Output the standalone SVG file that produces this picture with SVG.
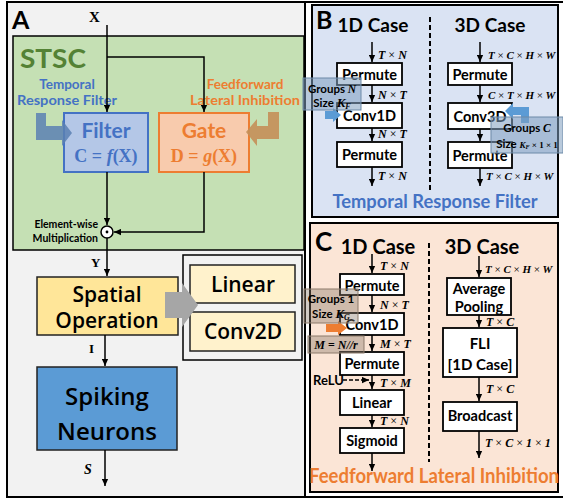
<svg xmlns="http://www.w3.org/2000/svg" width="563" height="504" viewBox="0 0 563 504">
<style>
.s{font-family:Lato,"Noto Sans",sans-serif;font-weight:bold}
.n{font-family:"Open Sans","Noto Sans",sans-serif;font-weight:600}
.m{font-family:"Liberation Serif",serif;font-style:italic;font-weight:bold;font-size:12px}
.ml{font-size:11px}
.mu{font-style:normal;font-weight:normal}
.box{fill:#fff;stroke:#000;stroke-width:1.8}
.ln{fill:none;stroke:#000;stroke-width:1.5}
.ov{stroke-width:1}
.c{text-anchor:middle}
</style>
<defs>
<marker id="ah" viewBox="0 0 10 10" refX="10" refY="5" markerWidth="7" markerHeight="7" markerUnits="userSpaceOnUse" orient="auto"><path d="M0,0.5 L10,5 L0,9.5 Z" fill="#000"/></marker>
</defs>

<!-- Panel A -->
<g id="panelA">
<rect x="7" y="2" width="298" height="495" fill="#f2f2f2" stroke="#000" stroke-width="2"/>
<line x1="305" y1="2" x2="563" y2="2" stroke="#000" stroke-width="2"/>
<line x1="305" y1="497" x2="563" y2="497" stroke="#000" stroke-width="2"/>
<text x="12" y="29" class="s" font-size="25" font-family="Liberation Sans">A</text>
<text x="89" y="22" font-family="Liberation Serif" font-weight="bold" font-size="15">X</text>
</g>
<g id="stsc">
<rect x="13" y="36" width="291" height="214" fill="#c5e0b4" stroke="#000" stroke-width="1.5"/>
<text x="20" y="68" class="s" font-size="26" fill="#548235" textLength="66" lengthAdjust="spacingAndGlyphs">STSC</text>
<text x="67" y="89" class="s c" font-size="13.5" fill="#4472c4">Temporal</text>
<text x="67" y="105" class="s c" font-size="13.5" fill="#4472c4" textLength="100" lengthAdjust="spacingAndGlyphs">Response Filter</text>
<text x="245" y="89" class="s c" font-size="13.5" fill="#ed7d31">Feedforward</text>
<text x="245" y="105" class="s c" font-size="13.5" fill="#ed7d31" textLength="110" lengthAdjust="spacingAndGlyphs">Lateral Inhibition</text>
</g>
<g id="filter">
<rect x="64" y="113" width="84" height="59" fill="#b4c7e7" stroke="#4472c4" stroke-width="2"/>
<text x="106" y="138" class="s c" font-size="21" fill="#4472c4">Filter</text>
<text x="106" y="162" class="c" font-family="Liberation Serif" font-weight="bold" font-size="18" fill="#4472c4">C = <tspan font-style="italic">f</tspan>(X)</text>
</g>
<g id="gate">
<rect x="159" y="113" width="90" height="59" fill="#f8cbad" stroke="#ed7d31" stroke-width="2"/>
<text x="204" y="138" class="s c" font-size="21" fill="#ed7d31">Gate</text>
<text x="204" y="162" class="c" font-family="Liberation Serif" font-weight="bold" font-size="18" fill="#ed7d31">D = <tspan font-style="italic">g</tspan>(X)</text>
</g>
<g id="wideArrows">
<path d="M36,113 H46 V126 H62 V120 L72,133 L62,146 V140 H36 Z" fill="#5b80b3" fill-opacity="0.85"/>
<path d="M279,112 H268 V126 H257 V119 L246,132 L257,146 V139 H279 Z" fill="#c48f58" fill-opacity="0.9"/>
</g>
<g id="mult">
<circle cx="107" cy="232" r="6" fill="#fff" stroke="#000" stroke-width="1.5"/>
<circle cx="107" cy="232" r="1.4" fill="#000"/>
<text x="98" y="228" class="s" font-size="10.5" text-anchor="end">Element-wise</text>
<text x="98" y="242" class="s" font-size="10.5" text-anchor="end">Multiplication</text>
</g>
<g id="ops">
<rect x="183" y="255" width="119" height="105" fill="#f2f2f2" stroke="#000" stroke-width="1.5"/>
<rect x="190" y="265" width="105" height="38" fill="#fff2cc" stroke="#222" stroke-width="1.5"/>
<text x="243" y="292" class="n c" font-size="21">Linear</text>
<rect x="190" y="312" width="105" height="39" fill="#fff2cc" stroke="#222" stroke-width="1.5"/>
<text x="243" y="339" class="n c" font-size="21">Conv2D</text>
</g>
<g id="spatial">
<rect x="37" y="277" width="141" height="58" fill="#ffe699" stroke="#222" stroke-width="1.5"/>
<text x="107" y="302" class="n c" font-size="21">Spatial</text>
<text x="107" y="328" class="n c" font-size="21">Operation</text>
<path d="M165,292 H182 V283 L198,305 L182,327 V318 H165 Z" fill="#a6a6a6"/>
</g>
<g id="spiking">
<rect x="37" y="367" width="140" height="83" fill="#5b9bd5" stroke="#222" stroke-width="1.5"/>
<text x="107" y="405" class="n c" font-size="24">Spiking</text>
<text x="107" y="440" class="n c" font-size="24">Neurons</text>
</g>
<g id="connectorsA">
<path class="ln" d="M107,25 V112" marker-end="url(#ah)"/>
<path class="ln" d="M107,57 H204 V112" marker-end="url(#ah)"/>
<path class="ln" d="M107,172 V225" marker-end="url(#ah)"/>
<path class="ln" d="M204,172 V232 H114" marker-end="url(#ah)"/>
<path class="ln" d="M107,238 V276" marker-end="url(#ah)"/>
<path class="ln" d="M105,335 V366" marker-end="url(#ah)"/>
<path class="ln" d="M105,450 V486" marker-end="url(#ah)"/>
<text x="91" y="267" font-family="Liberation Serif" font-weight="bold" font-size="13">Y</text>
<text x="89" y="353" font-family="Liberation Serif" font-weight="bold" font-size="13">I</text>
<text x="84" y="474" font-family="Liberation Serif" font-weight="bold" font-style="italic" font-size="14">S</text>
</g>

<!-- Panel B -->
<g id="panelB">
<rect x="312" y="5" width="246" height="212" fill="#dae3f3" stroke="#000" stroke-width="2"/>
<text x="316" y="29" class="s" font-size="25">B</text>
<text x="373" y="32" class="s c" font-size="19">1D Case</text>
<text x="490" y="32" class="s c" font-size="19">3D Case</text>
<line x1="430" y1="17" x2="430" y2="190" stroke="#000" stroke-width="2" stroke-dasharray="5,3"/>
<text x="435" y="208" class="s c" font-size="19" fill="#4472c4" textLength="205" lengthAdjust="spacingAndGlyphs">Temporal Response Filter</text>
</g>
<g id="b1permute1"><rect class="box" x="337" y="63" width="65" height="22"/><text x="369.5" y="80" class="s c" font-size="14.5">Permute</text></g>
<g id="b1conv1d"><rect class="box" x="337" y="103" width="65" height="25"/><text x="369.5" y="121" class="s c" font-size="14.5">Conv1D</text></g>
<g id="b1permute2"><rect class="box" x="337" y="142" width="65" height="25"/><text x="369.5" y="160" class="s c" font-size="14.5">Permute</text></g>
<g id="b3permute1"><rect class="box" x="448" y="63" width="64" height="22"/><text x="480" y="80" class="s c" font-size="14.5">Permute</text></g>
<g id="b3conv3d"><rect class="box" x="448" y="103" width="64" height="26"/><text x="480" y="122" class="s c" font-size="14.5">Conv3D</text></g>
<g id="b3permute2"><rect class="box" x="448" y="142" width="64" height="26"/><text x="480" y="161" class="s c" font-size="14.5">Permute</text></g>
<g id="connectorsB">
<path class="ln" d="M372,42 V62" marker-end="url(#ah)"/>
<path class="ln" d="M372,85 V102" marker-end="url(#ah)"/>
<path class="ln" d="M372,128 V141" marker-end="url(#ah)"/>
<path class="ln" d="M372,167 V186" marker-end="url(#ah)"/>
<path class="ln" d="M480,42 V62" marker-end="url(#ah)"/>
<path class="ln" d="M480,85 V102" marker-end="url(#ah)"/>
<path class="ln" d="M480,129 V141" marker-end="url(#ah)"/>
<path class="ln" d="M480,168 V186" marker-end="url(#ah)"/>
<text x="378" y="59" class="m">T <tspan class="mu">×</tspan> N</text>
<text x="378" y="99" class="m">N <tspan class="mu">×</tspan> T</text>
<text x="378" y="138" class="m">N <tspan class="mu">×</tspan> T</text>
<text x="378" y="180" class="m">T <tspan class="mu">×</tspan> N</text>
<text x="488" y="59" class="m ml">T <tspan class="mu">×</tspan> C <tspan class="mu">×</tspan> H <tspan class="mu">×</tspan> W</text>
<text x="488" y="99" class="m ml">C <tspan class="mu">×</tspan> T <tspan class="mu">×</tspan> H <tspan class="mu">×</tspan> W</text>
<text x="486" y="180" class="m ml">T <tspan class="mu">×</tspan> C <tspan class="mu">×</tspan> H <tspan class="mu">×</tspan> W</text>
</g>
<g id="groupsN">
<path d="M325,111 H333 V108 L341,115 L333,122 V119 H325 Z" fill="#5b9bd5"/>
<rect class="ov" x="303" y="78" width="58" height="32" fill="#7f9fbf" fill-opacity="0.55" stroke="#6d8aa8"/>
<text x="332" y="93" class="s c" font-size="11.5">Groups <tspan font-family="Liberation Serif" font-style="italic">N</tspan></text>
<text x="332" y="107" class="s c" font-size="11.5">Size <tspan font-family="Liberation Serif" font-style="italic" font-size="13">K</tspan><tspan font-family="Liberation Serif" font-style="italic" font-size="8" dy="2">F</tspan></text>
</g>
<g id="groupsC">
<path d="M529,123 V107 H513 V103 L505,111 L513,119 V115 H521 V123 Z" fill="#5b9bd5"/>
<rect class="ov" x="491" y="117" width="72" height="36" fill="#7f9fbf" fill-opacity="0.55" stroke="#6d8aa8"/>
<text x="527" y="132" class="s c" font-size="11.5">Groups <tspan font-family="Liberation Serif" font-style="italic">C</tspan></text>
<text x="527" y="148" class="s c" font-size="11.5">Size <tspan font-family="Liberation Serif" font-style="italic" font-size="9">K<tspan font-size="6" dy="1">F</tspan><tspan dy="-1" font-style="normal"> × 1 × 1</tspan></tspan></text>
</g>

<!-- Panel C -->
<g id="panelC">
<rect x="310" y="223" width="248" height="269" fill="#fbe5d6" stroke="#000" stroke-width="2"/>
<text x="315" y="251" class="s" font-size="26">C</text>
<text x="378" y="254" class="s c" font-size="20">1D Case</text>
<text x="482" y="254" class="s c" font-size="20">3D Case</text>
<line x1="429" y1="243" x2="429" y2="462" stroke="#000" stroke-width="2" stroke-dasharray="5,3"/>
<text x="434" y="483" class="s c" font-size="20" fill="#ed7d31" textLength="250" lengthAdjust="spacingAndGlyphs">Feedforward Lateral Inhibition</text>
<text x="313" y="385" class="s" font-size="13">ReLU</text>
</g>
<g id="c1permute1"><rect class="box" x="340" y="274" width="64" height="21"/><text x="372" y="291" class="s c" font-size="14.5">Permute</text></g>
<g id="c1conv1d"><rect class="box" x="340" y="313" width="64" height="22"/><text x="372" y="330" class="s c" font-size="14.5">Conv1D</text></g>
<g id="c1permute2"><rect class="box" x="340" y="352" width="64" height="23"/><text x="372" y="369" class="s c" font-size="14.5">Permute</text></g>
<g id="c1linear"><rect class="box" x="340" y="390" width="64" height="25"/><text x="372" y="408" class="s c" font-size="14.5">Linear</text></g>
<g id="c1sigmoid"><rect class="box" x="340" y="428" width="64" height="25"/><text x="372" y="446" class="s c" font-size="14.5">Sigmoid</text></g>
<g id="c3pool"><rect class="box" x="447" y="278" width="64" height="37"/><text x="479" y="294" class="s c" font-size="14.5">Average</text><text x="479" y="312" class="s c" font-size="14.5">Pooling</text></g>
<g id="c3fli"><rect class="box" x="443" y="328" width="74" height="49"/><text x="480" y="349" class="s c" font-size="15">FLI</text><text x="480" y="370" class="s c" font-size="15">[1D Case]</text></g>
<g id="c3broadcast"><rect class="box" x="443" y="402" width="74" height="29"/><text x="480" y="421" class="s c" font-size="14.5">Broadcast</text></g>
<g id="connectorsC">
<path class="ln" d="M372,254 V273" marker-end="url(#ah)"/>
<path class="ln" d="M372,295 V312" marker-end="url(#ah)"/>
<path class="ln" d="M372,335 V351" marker-end="url(#ah)"/>
<path class="ln" d="M372,375 V389" marker-end="url(#ah)"/>
<path class="ln" d="M372,415 V427" marker-end="url(#ah)"/>
<path class="ln" d="M372,453 V471" marker-end="url(#ah)"/>
<path class="ln" d="M343,380 H369" stroke-dasharray="4,2" marker-end="url(#ah)"/>
<path class="ln" d="M479,256 V277" marker-end="url(#ah)"/>
<path class="ln" d="M479,315 V327" marker-end="url(#ah)"/>
<path class="ln" d="M479,377 V401" marker-end="url(#ah)"/>
<path class="ln" d="M479,431 V458" marker-end="url(#ah)"/>
<text x="380" y="270" class="m">T <tspan class="mu">×</tspan> N</text>
<text x="380" y="309" class="m">N <tspan class="mu">×</tspan> T</text>
<text x="380" y="348" class="m">M <tspan class="mu">×</tspan> T</text>
<text x="380" y="387" class="m">T <tspan class="mu">×</tspan> M</text>
<text x="380" y="425" class="m">T <tspan class="mu">×</tspan> N</text>
<text x="485" y="273" class="m ml">T <tspan class="mu">×</tspan> C <tspan class="mu">×</tspan> H <tspan class="mu">×</tspan> W</text>
<text x="486" y="326" class="m">T <tspan class="mu">×</tspan> C</text>
<text x="486" y="393" class="m">T <tspan class="mu">×</tspan> C</text>
<text x="485" y="447" class="m">T <tspan class="mu">×</tspan> C <tspan class="mu">×</tspan> 1 <tspan class="mu">×</tspan> 1</text>
</g>
<g id="groups1">
<path d="M326,324 H338 V321 L347,328 L338,335 V332 H326 Z" fill="#ed7d31"/>
<rect class="ov" x="304" y="289" width="54" height="34" fill="#8c7a6b" fill-opacity="0.4" stroke="#8c7a6b"/>
<text x="331" y="303" class="s c" font-size="11.5">Groups 1</text>
<text x="331" y="318" class="s c" font-size="11.5">Size <tspan font-family="Liberation Serif" font-style="italic" font-size="13">K</tspan><tspan font-family="Liberation Serif" font-style="italic" font-size="8" dy="2">G</tspan></text>
</g>
<g id="mNr">
<rect class="ov" x="308" y="336" width="56" height="17" fill="#8c7a6b" fill-opacity="0.4" stroke="#8c7a6b"/>
<text x="336" y="349" class="c" font-family="Liberation Serif" font-style="italic" font-weight="bold" font-size="12">M <tspan font-style="normal">=</tspan> N//r</text>
</g>
</svg>
